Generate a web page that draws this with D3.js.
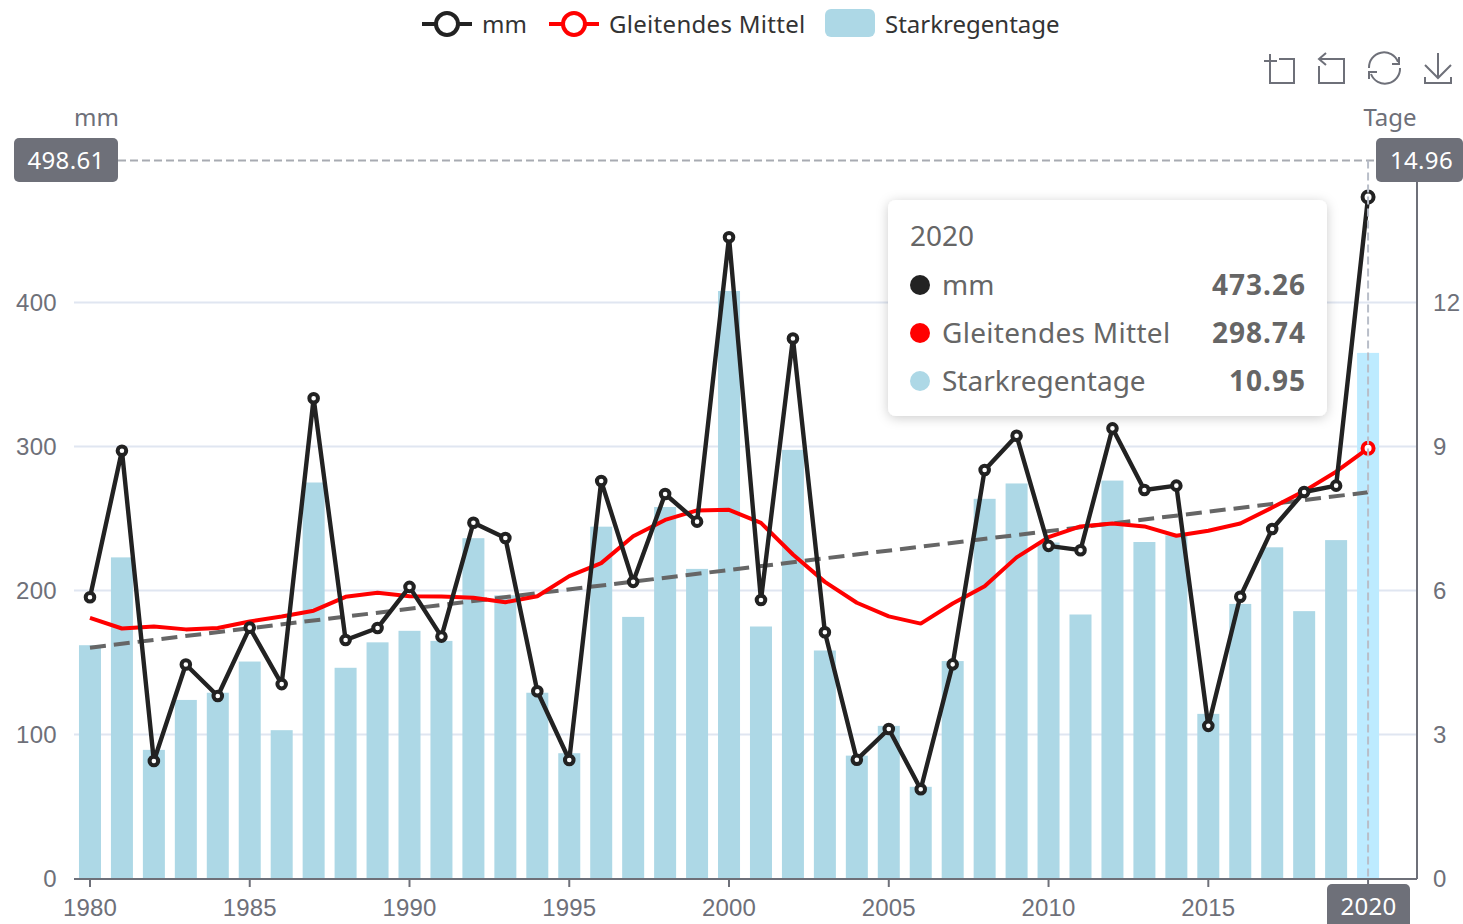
<!DOCTYPE html>
<html>
<head>
<meta charset="utf-8">
<script src="https://cdn.jsdelivr.net/npm/d3@7"></script>
<style>
  html, body { margin: 0; padding: 0; background: #fff; overflow: hidden; }
  svg { display: block; font-family: "Noto Sans", sans-serif; }
</style>
</head>
<body>
<div id="chart"></div>
<script>
const years = d3.range(1980, 2022)
const mm = [195.3, 297, 81.6, 148.6, 126.7, 174.2, 135, 333.5, 165.6, 174, 202.5, 168, 247, 236.5, 130, 82.3, 276, 206, 267, 247.8, 445.3, 193.4, 375, 171, 82.5, 103.8, 62, 148.7, 283.7, 307.5, 231, 228, 312.6, 269.8, 272.8, 106, 195.7, 242.7, 268.4, 272.8, 473.26]
const mittel = [181, 173.6, 175, 173, 174, 178.5, 182, 186, 195.6, 198.4, 196, 195.8, 195, 191.9, 196, 210, 219, 237.7, 249, 255.6, 256, 247, 225, 206, 191.5, 182, 177, 191, 203, 223, 237, 244.5, 246.5, 244.5, 238, 241.5, 246.5, 257.6, 269, 282.5, 298.74]
const tage = [4.86, 6.69, 2.68, 3.72, 3.87, 4.52, 3.09, 8.25, 4.39, 4.92, 5.16, 4.95, 7.09, 5.9, 3.87, 2.61, 7.33, 5.45, 7.74, 6.45, 12.24, 5.25, 8.93, 4.75, 2.56, 3.18, 1.91, 4.53, 7.91, 8.23, 7, 5.5, 8.29, 7.01, 7.15, 3.43, 5.72, 6.9, 5.57, 7.05, 10.95]
const trendYears = [1980, 2020]
const trend = [160.3, 268.2]
const mmTicks = [0, 100, 200, 300, 400]
const tageTicks = [0, 3, 6, 9, 12]
const legendNames = ['mm', 'Gleitendes Mittel', 'Starkregentage']
const activeYear = 2020
const pointerMm = 498.61
const pointerTage = 14.96

const width = 1463
const height = 924
const textColor = '#6E7079'
const barColor = '#ADD8E6'

const svg = d3.select('#chart').append('svg').attr('width', width).attr('height', height)

const x = d3.scaleBand().domain(years).range([74, 1416])
const cx = (y) => x(y) + x.bandwidth() / 2
const yL = d3.scaleLinear().domain([0, 500]).range([878.5, 158.5])
const yR = d3.scaleLinear().domain([0, 15]).range([878.5, 158.5])

// grid
svg.append('g').selectAll('line').data(mmTicks.slice(1)).join('line')
  .attr('x1', 74).attr('x2', 1417)
  .attr('y1', (d) => yL(d)).attr('y2', (d) => yL(d))
  .attr('stroke', '#E0E6F1').attr('stroke-width', 2)

// bars
svg.append('g').selectAll('rect').data(tage).join('rect')
  .attr('x', (d, i) => cx(years[i]) - 11)
  .attr('width', 22)
  .attr('y', (d) => yR(d))
  .attr('height', (d) => yR(0) - yR(d))
  .attr('fill', (d, i) => (years[i] === activeYear ? '#BDEBFF' : barColor))

// axes
const xAxis = d3.axisBottom(x)
  .tickValues(years.filter((y) => y % 5 === 0))
  .tickSize(8).tickPadding(6)
  .tickFormat((d) => (d === activeYear ? '' : d))
const gx = svg.append('g').attr('transform', 'translate(0,879)').call(xAxis)
gx.select('.domain').attr('stroke', textColor).attr('stroke-width', 2)
  .attr('d', 'M74,0H1417')
gx.selectAll('.tick line').attr('stroke', textColor).attr('stroke-width', 2)
gx.selectAll('text').attr('fill', textColor).style('font-size', '24px')
  .style('letter-spacing', '0.2px').attr('dy', '0.95em')

const gl = svg.append('g').attr('transform', 'translate(74,0)')
  .call(d3.axisLeft(yL).tickValues(mmTicks).tickSize(0).tickPadding(17))
gl.select('.domain').remove()
gl.selectAll('text').attr('fill', textColor).style('font-size', '24px').style('letter-spacing', '0.3px')

const gr = svg.append('g').attr('transform', 'translate(1417,0)')
  .call(d3.axisRight(yR).tickValues(tageTicks).tickSize(0).tickPadding(16))
gr.select('.domain').attr('stroke', textColor).attr('stroke-width', 2).attr('d', 'M0,879V159')
gr.selectAll('text').attr('fill', textColor).style('font-size', '24px').style('letter-spacing', '0.3px')

svg.append('text').text('mm').attr('x', 96.5).attr('y', 126).attr('text-anchor', 'middle')
  .attr('fill', textColor).style('font-size', '24px')
svg.append('text').text('Tage').attr('x', 1390).attr('y', 126).attr('text-anchor', 'middle')
  .attr('fill', textColor).style('font-size', '24px')

// series lines
const lineMm = d3.line().x((d, i) => cx(years[i])).y((d) => yL(d))
const lineTrend = d3.line().x((d, i) => cx(trendYears[i])).y((d) => yL(d))

svg.append('path').attr('d', lineTrend(trend)).attr('fill', 'none')
  .attr('stroke', '#666').attr('stroke-width', 4).attr('stroke-dasharray', '16,8')
svg.append('path').attr('d', lineMm(mittel)).attr('fill', 'none')
  .attr('stroke', '#f00').attr('stroke-width', 4).attr('stroke-linejoin', 'bevel')
svg.append('path').attr('d', lineMm(mm)).attr('fill', 'none')
  .attr('stroke', '#222').attr('stroke-width', 4.4).attr('stroke-linejoin', 'bevel')
svg.append('g').selectAll('circle').data(mm).join('circle')
  .attr('cx', (d, i) => cx(years[i])).attr('cy', (d) => yL(d))
  .attr('r', (d, i) => (years[i] === activeYear ? 5.5 : 4.3))
  .attr('fill', '#fff').attr('stroke', '#222').attr('stroke-width', 4)
svg.append('circle')
  .attr('cx', cx(activeYear)).attr('cy', yL(mittel[mittel.length - 1])).attr('r', 5.5)
  .attr('fill', '#fff').attr('stroke', '#f00').attr('stroke-width', 4)

// axis pointer
const pointerY = yL(pointerMm)
svg.append('line').attr('x1', 118).attr('x2', 1376).attr('y1', pointerY).attr('y2', pointerY)
  .attr('stroke', '#A8ABB2').attr('stroke-width', 2).attr('stroke-dasharray', '8,4')
svg.append('line').attr('x1', cx(activeYear)).attr('x2', cx(activeYear))
  .attr('y1', pointerY).attr('y2', 879)
  .attr('stroke', '#B9BEC9').attr('stroke-width', 2).attr('stroke-dasharray', '8,4')

function pointerLabel(text, bx, by, bw, bh, dx) {
  svg.append('rect').attr('x', bx).attr('y', by).attr('width', bw).attr('height', bh)
    .attr('rx', 5).attr('fill', textColor)
  svg.append('text').text(text).attr('x', bx + bw / 2 + dx).attr('y', by + bh / 2 + 8.5)
    .attr('text-anchor', 'middle').attr('fill', '#fff').style('font-size', '24px')
    .style('letter-spacing', '0.3px')
}
pointerLabel(pointerMm, 14, 138, 104, 44, 0)
pointerLabel(pointerTage, 1376, 138, 87, 44, 2)
pointerLabel(activeYear, 1327, 884, 83, 44, 0)

// legend
const legend = svg.append('g').style('font-size', '24px').attr('fill', '#333')
const legendX = [422, 549, 825]
legend.selectAll('line').data(legendX.slice(0, 2)).join('line')
  .attr('x1', (d) => d).attr('x2', (d) => d + 50)
  .attr('y1', 24).attr('y2', 24)
  .attr('stroke', (d, i) => (i ? '#f00' : '#222')).attr('stroke-width', 4)
legend.selectAll('circle').data(legendX.slice(0, 2)).join('circle')
  .attr('cx', (d) => d + 25).attr('cy', 24).attr('r', 11)
  .attr('fill', '#fff').attr('stroke', (d, i) => (i ? '#f00' : '#222')).attr('stroke-width', 4)
legend.append('rect').attr('x', legendX[2]).attr('y', 9).attr('width', 50).attr('height', 28)
  .attr('rx', 6).attr('fill', barColor)
legend.selectAll('text').data(legendNames).join('text')
  .text((d) => d).attr('y', 33)
  .attr('x', (d, i) => [482, 609, 885][i])
  .style('letter-spacing', (d, i) => (i === 1 ? '0.3px' : '0'))

// toolbox
const tool = svg.append('g').attr('fill', 'none').attr('stroke', textColor).attr('stroke-width', 2)
tool.append('path').attr('d', 'M1264,61H1277M1270,54V83H1294V59H1279')
tool.append('path').attr('d', 'M1319,59H1344V83H1319V66M1326,53L1319,59L1326,65')
tool.append('path').attr('d', 'M1369,68A15,15 0 0 1 1398,62M1399,57V64H1392M1400,68A15,15 0 0 1 1371,74M1369,79V72H1377')
tool.append('path').attr('d', 'M1438,53V78M1425,65L1438,78L1451,65M1425,77V83H1451V77')

// tooltip
const defs = svg.append('defs')
const shadow = defs.append('filter').attr('id', 'tipShadow')
  .attr('x', '-10%').attr('y', '-10%').attr('width', '120%').attr('height', '120%')
shadow.append('feDropShadow').attr('dx', 0).attr('dy', 2).attr('stdDeviation', 6)
  .attr('flood-color', '#000').attr('flood-opacity', 0.2)
const tip = svg.append('g')
tip.append('rect').attr('x', 888).attr('y', 200).attr('width', 439).attr('height', 216)
  .attr('rx', 8).attr('fill', '#fff').attr('filter', 'url(#tipShadow)')
tip.append('text').text(activeYear).attr('x', 910).attr('y', 246)
  .attr('fill', '#666').style('font-size', '28px')
const last = mm.length - 1
const tipValues = [mm[last].toFixed(2), mittel[last].toFixed(2), tage[last].toFixed(2)]
const tipColors = ['#222', '#f00', barColor]
legendNames.forEach((name, i) => {
  const rowY = 285 + i * 48
  tip.append('circle').attr('cx', 920).attr('cy', rowY).attr('r', 10).attr('fill', tipColors[i])
  tip.append('text').text(name).attr('x', 942).attr('y', rowY + 10)
    .attr('fill', '#666').style('font-size', '28px')
    .style('letter-spacing', i === 1 ? '0.3px' : '0')
  tip.append('text').text(tipValues[i]).attr('x', 1306).attr('y', rowY + 10)
    .attr('text-anchor', 'end').attr('fill', '#666').attr('font-weight', 700)
    .style('font-size', '28px').style('letter-spacing', '1px')
})
</script>
</body>
</html>
